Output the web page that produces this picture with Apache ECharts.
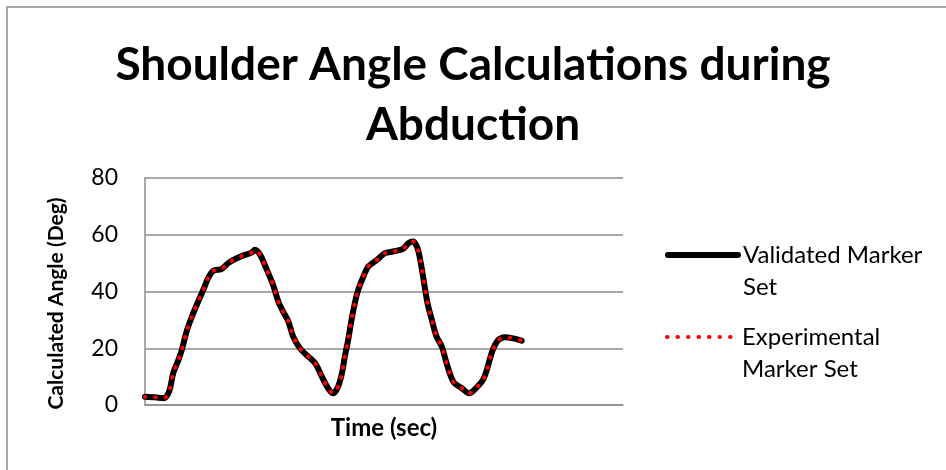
<!DOCTYPE html>
<html>
<head>
<meta charset="utf-8">
<script src="https://cdn.jsdelivr.net/npm/echarts@6/dist/echarts.min.js"></script>
<style>
  html, body { margin: 0; padding: 0; background: #fff; }
  #chart { width: 946px; height: 470px; }
</style>
</head>
<body>
<div id="chart"></div>
<script>
// time positions (relative units across the axis) and angles
const timeSteps = [0, 2.1, 4.0, 5.1, 5.9, 7.0, 7.7, 8.7, 9.8, 11.1, 12.2, 13.2, 14.3, 16.0, 17.4, 19.2, 20.9, 22.3, 23.0, 24.1,
  25.5, 26.8, 27.9, 28.9, 30.0, 31.0, 32.4, 33.8, 35.6, 37.0, 38.3, 39.4, 40.4, 41.2, 41.8, 42.5, 43.2, 43.9, 44.6, 45.7,
  46.7, 48.5, 50.2, 51.9, 54.0, 55.1, 56.1, 57.0, 57.7, 58.4, 59.1, 60.0, 61.0, 62.1, 63.1, 64.5, 66.3, 67.8, 69.4, 70.8,
  71.5, 72.2, 72.9, 73.9, 75.3, 77.0, 78.8];
const validatedAngles = [2.9, 2.7, 2.4, 5.0, 11.2, 15.9, 19.4, 25.9, 31.1, 36.4, 40.6, 44.7, 47.3, 47.9, 50.0, 51.7, 52.9, 53.7, 54.7, 52.9,
  47.6, 42.3, 36.4, 32.9, 29.4, 24.1, 20.0, 17.6, 14.7, 10.0, 5.9, 4.1, 6.5, 11.2, 17.0, 22.9, 30.0, 35.9, 40.6, 45.3,
  48.8, 51.1, 53.5, 54.1, 55.0, 57.0, 57.6, 55.3, 50.0, 42.9, 35.9, 30.0, 24.1, 20.6, 14.7, 8.2, 5.9, 4.1, 6.2, 9.1,
  12.3, 16.5, 20.0, 22.9, 23.9, 23.5, 22.7];
// the experimental set sits right on top of the validated one
const experimentalAngles = validatedAngles.slice();
const yTicks = [0, 20, 40, 60, 80];
const seriesNames = ['Validated Marker Set', 'Experimental Marker Set'];
const legendLabels = {
  'Validated Marker Set': '\nValidated Marker\nSet',
  'Experimental Marker Set': '\nExperimental\nMarker Set'
};

const FONT = 'Lato, "Open Sans", sans-serif';

const solidStyle = { color: '#000', width: 6, cap: 'round' };
const dottedStyle = { color: '#ff0000', width: 4, type: [0.5, 10], cap: 'round' };
// no marker in the legend, only the line
const noSymbol = { color: 'rgba(0,0,0,0)', borderWidth: 0, opacity: 0 };

const chart = echarts.init(document.getElementById('chart'));

const toPairs = (xs, ys) => xs.map((x, i) => [x, ys[i]]);

const legendBase = {
  orient: 'vertical',
  left: 665,
  padding: 0,
  itemWidth: 70,
  itemHeight: 14,
  textStyle: { fontFamily: FONT, fontSize: 24, color: '#000', lineHeight: 32 },
  formatter: (name) => legendLabels[name]
};

chart.setOption({
  animation: false,
  title: {
    text: 'Shoulder Angle Calculations during\nAbduction',
    left: 'center',
    top: 30,
    textStyle: { fontFamily: FONT, fontSize: 46, fontWeight: 'bold', color: '#000', lineHeight: 60 }
  },
  legend: [
    Object.assign({ top: 207, data: [{ name: seriesNames[0], lineStyle: solidStyle, itemStyle: noSymbol }] }, legendBase),
    Object.assign({ top: 289, data: [{ name: seriesNames[1], lineStyle: dottedStyle, itemStyle: noSymbol }] }, legendBase)
  ],
  grid: { left: 145, right: 323, top: 178, bottom: 65 },
  xAxis: {
    type: 'value',
    min: 0,
    max: 100,
    name: 'Time (sec)',
    nameLocation: 'middle',
    nameGap: 11,
    nameTextStyle: { fontFamily: FONT, fontSize: 24, fontWeight: 'bold', color: '#000' },
    axisLine: { lineStyle: { color: '#8c8c8c', width: 1.5 } },
    axisTick: { show: false },
    axisLabel: { show: false },
    splitLine: { show: false }
  },
  yAxis: {
    type: 'value',
    min: yTicks[0],
    max: yTicks[yTicks.length - 1],
    interval: 20,
    name: 'Calculated Angle (Deg)',
    nameLocation: 'middle',
    nameGap: 78,
    nameTextStyle: { fontFamily: FONT, fontSize: 21, fontWeight: 'bold', color: '#000', padding: [0, 24, 0, 0] },
    axisLine: { show: true, lineStyle: { color: '#8c8c8c', width: 1.5 } },
    axisTick: { show: false },
    axisLabel: { fontFamily: FONT, fontSize: 23, color: '#000', margin: 27 },
    splitLine: { lineStyle: { color: '#8c8c8c', width: 1.5 } }
  },
  series: [
    {
      name: seriesNames[0],
      type: 'line',
      data: toPairs(timeSteps, validatedAngles),
      symbol: 'none',
      smooth: 0.3,
      lineStyle: solidStyle,
      itemStyle: { color: '#000' }
    },
    {
      name: seriesNames[1],
      type: 'line',
      data: toPairs(timeSteps, experimentalAngles),
      symbol: 'none',
      smooth: 0.3,
      lineStyle: dottedStyle,
      itemStyle: { color: '#ff0000' }
    }
  ],
  graphic: [
    {
      type: 'rect',
      shape: { x: 7, y: 7, width: 1000, height: 1000 },
      style: { fill: 'none', stroke: '#8c8c8c', lineWidth: 1.5 },
      silent: true
    }
  ]
});
</script>
</body>
</html>
